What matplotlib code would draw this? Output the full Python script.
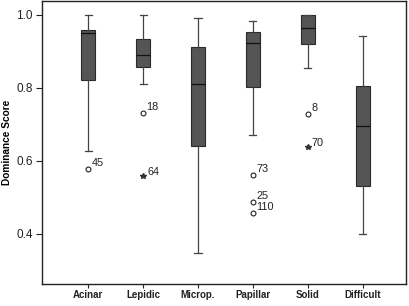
#!/usr/bin/env python3
"""Box plot of dominance scores per growth pattern"""

import matplotlib
matplotlib.use('Agg')
import matplotlib.pyplot as plt

plt.rcParams['font.family'] = ['Liberation Sans', 'DejaVu Sans']

# Data
categories = ['Acinar', 'Lepidic', 'Microp.', 'Papillar', 'Solid', 'Difficult']
whisker_low = [0.627, 0.811, 0.347, 0.671, 0.854, 0.400]
q1 = [0.822, 0.856, 0.642, 0.802, 0.920, 0.532]
median = [0.950, 0.890, 0.810, 0.922, 0.964, 0.697]
q3 = [0.959, 0.933, 0.911, 0.953, 0.999, 0.804]
whisker_high = [1.000, 1.000, 0.992, 0.982, 1.000, 0.943]

# outliers: (category index, value, case label)
outlier_cat = [0, 1, 3, 3, 3, 4]
outlier_val = [0.578, 0.732, 0.562, 0.488, 0.457, 0.729]
outlier_lbl = ['45', '18', '73', '25', '110', '8']

extreme_cat = [1, 4]
extreme_val = [0.559, 0.639]
extreme_lbl = ['64', '70']

fig = plt.figure(figsize=(4.09, 3.06), dpi=100)
ax = fig.add_axes([42 / 409, 22 / 306, 364 / 409, 283 / 306])

stats = []
for i, name in enumerate(categories):
    stats.append({'label': name, 'whislo': whisker_low[i], 'q1': q1[i],
                  'med': median[i], 'q3': q3[i], 'whishi': whisker_high[i]})

positions = list(range(1, len(categories) + 1))
ax.bxp(stats, positions=positions, widths=0.26, showfliers=False,
       patch_artist=True,
       boxprops=dict(facecolor='#555555', edgecolor='#2a2a2a', linewidth=0.8),
       medianprops=dict(color='#111111', linewidth=0.9),
       whiskerprops=dict(color='#444444', linewidth=0.9),
       capprops=dict(color='#444444', linewidth=0.9),
       capwidths=0.13)

# mild outliers (circles) and extremes (stars)
for c, v, lbl in zip(outlier_cat, outlier_val, outlier_lbl):
    ax.plot(positions[c], v, marker='o', markersize=3.5, markerfacecolor='white',
            markeredgecolor='#222222', markeredgewidth=0.8, linestyle='none')
    ax.annotate(lbl, (positions[c], v), textcoords='offset points',
                xytext=(2.5, 0.5), ha='left', va='bottom', fontsize=7.8,
                color='#222222')
for c, v, lbl in zip(extreme_cat, extreme_val, extreme_lbl):
    ax.plot(positions[c], v, marker='*', markersize=4, color='#333333',
            linestyle='none')
    ax.annotate(lbl, (positions[c], v), textcoords='offset points',
                xytext=(3, -1), ha='left', va='bottom', fontsize=7.8,
                color='#222222')

ax.set_xlim(0.157, 6.79)
ax.set_ylim(0.263, 1.038)
ax.set_yticks([0.4, 0.6, 0.8, 1.0])
ax.set_yticklabels(['0.4', '0.6', '0.8', '1.0'], fontsize=8.5)
ax.set_xticks(positions)
ax.set_xticklabels(categories, fontsize=7, fontweight='bold')
ax.tick_params(axis='both', direction='out', width=0.8, colors='#222222')
ax.tick_params(axis='x', length=3, pad=1.5)
ax.tick_params(axis='y', length=4, pad=2.5)
ax.set_ylabel('Dominance Score', fontsize=7.3, fontweight='bold', labelpad=3)

for s in ax.spines.values():
    s.set_color('#222222')
    s.set_linewidth(1.0)

fig.savefig('out.png', dpi=100, facecolor='white')
